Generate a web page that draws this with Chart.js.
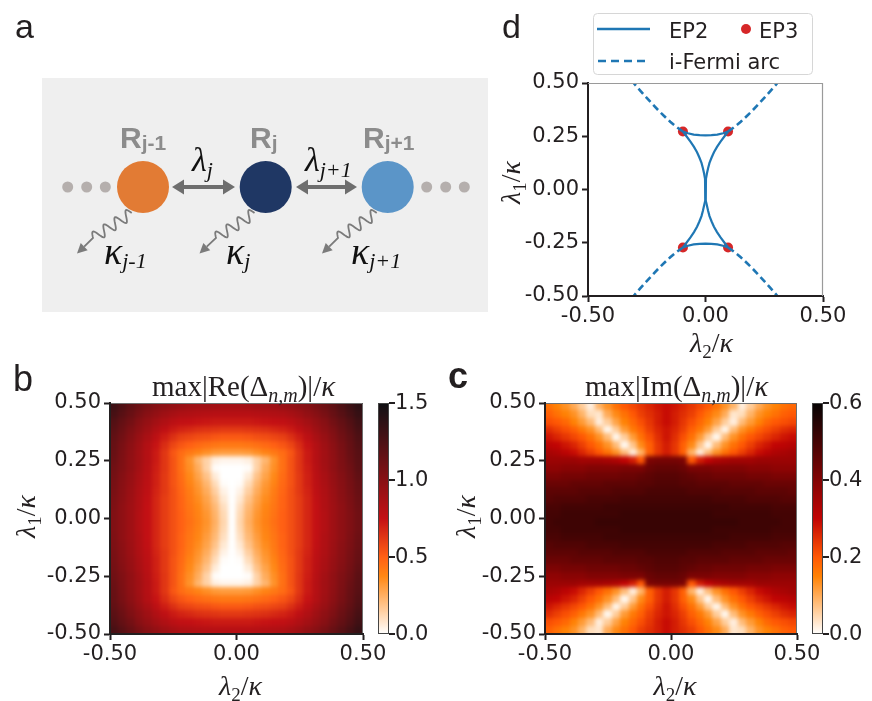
<!DOCTYPE html>
<html><head><meta charset="utf-8">
<script src="https://cdn.jsdelivr.net/npm/chart.js@4.4.1/dist/chart.umd.min.js"></script>
<style>
html,body{margin:0;padding:0;background:#fff;width:872px;height:701px;overflow:hidden;}
canvas{position:absolute;}
</style></head><body>
<canvas id="pa" style="left:0;top:0" width="490" height="330"></canvas>
<canvas id="cd" style="left:490px;top:0" width="382" height="370"></canvas>
<canvas id="cb" style="left:0;top:360px" width="440" height="341"></canvas>
<canvas id="cc" style="left:440px;top:360px" width="432" height="341"></canvas>
<script>
// ---------- DATA ----------
// heat-map cell centres (units of kappa)
const lambda2Centers = [-0.4833,-0.45,-0.4167,-0.3833,-0.35,-0.3167,-0.2833,-0.25,-0.2167,-0.1833,-0.15,-0.1167,-0.0833,-0.05,-0.0167,0.0167,0.05,0.0833,0.1167,0.15,0.1833,0.2167,0.25,0.2833,0.3167,0.35,0.3833,0.4167,0.45,0.4833];
const lambda1Centers = [0.4833,0.45,0.4167,0.3833,0.35,0.3167,0.2833,0.25,0.2167,0.1833,0.15,0.1167,0.0833,0.05,0.0167,-0.0167,-0.05,-0.0833,-0.1167,-0.15,-0.1833,-0.2167,-0.25,-0.2833,-0.3167,-0.35,-0.3833,-0.4167,-0.45,-0.4833];
// max|Re(Delta)|/kappa, in units of 0.01 (rows top -> bottom)
const reDelta = [
[131,124,117,111,106,101,98,95,93,91,90,90,89,88,88,88,89,90,90,91,93,95,98,101,106,111,117,124,131,138],
[127,120,113,106,100,95,90,87,84,83,82,81,80,80,80,80,80,81,82,83,84,87,90,95,100,106,113,120,127,134],
[122,115,108,100,94,88,83,79,76,75,74,73,72,72,72,72,72,73,74,75,76,79,83,88,94,100,108,115,122,130],
[119,112,104,97,90,83,77,72,69,67,65,64,63,62,62,62,63,64,65,67,69,72,77,83,90,97,104,112,119,127],
[116,109,101,93,86,78,71,65,60,58,56,55,53,52,52,52,53,55,56,58,60,65,71,78,86,93,101,109,116,124],
[114,106,98,90,82,74,66,58,53,50,47,45,43,42,42,42,43,45,47,50,53,58,66,74,82,90,98,106,114,122],
[113,105,97,89,81,72,63,53,46,42,39,35,32,31,31,31,32,35,39,42,46,53,63,72,81,89,97,105,113,120],
[112,104,96,89,81,72,63,54,45,34,23,14,5,3,3,3,5,14,23,34,45,54,63,72,81,89,96,104,112,119],
[110,103,96,88,80,71,63,54,45,35,26,14,1,0,0,0,1,14,26,35,45,54,63,71,80,88,96,103,110,118],
[108,101,94,86,79,70,62,54,46,37,29,19,6,0,0,0,6,19,29,37,46,54,62,70,79,86,94,101,108,116],
[107,100,93,85,78,70,62,54,47,39,32,23,11,1,0,1,11,23,32,39,47,54,62,70,78,85,93,100,107,114],
[106,99,92,84,77,69,62,55,48,41,34,26,15,4,0,4,15,26,34,41,48,55,62,69,77,84,92,99,106,113],
[105,98,91,83,76,68,61,55,49,42,36,29,19,7,0,7,19,29,36,42,49,55,61,68,76,83,91,98,105,112],
[104,97,90,83,75,68,61,55,49,43,38,31,22,10,0,10,22,31,38,43,49,55,61,68,75,83,90,97,104,111],
[103,97,90,82,75,68,61,55,50,44,39,33,24,12,0,12,24,33,39,44,50,55,61,68,75,82,90,97,103,110],
[103,97,90,82,75,68,61,55,50,45,40,34,25,13,0,13,25,34,40,45,50,55,61,68,75,82,90,97,103,110],
[103,97,90,82,75,68,61,55,50,44,39,33,24,12,0,12,24,33,39,44,50,55,61,68,75,82,90,97,103,110],
[104,97,90,83,75,68,61,55,49,43,38,31,22,10,0,10,22,31,38,43,49,55,61,68,75,83,90,97,104,111],
[105,98,91,83,76,68,61,55,49,42,36,29,19,7,0,7,19,29,36,42,49,55,61,68,76,83,91,98,105,112],
[106,99,92,84,77,69,62,55,48,41,34,26,15,4,0,4,15,26,34,41,48,55,62,69,77,84,92,99,106,113],
[107,100,93,85,78,70,62,54,47,39,32,23,11,1,0,1,11,23,32,39,47,54,62,70,78,85,93,100,107,114],
[108,101,94,86,79,70,62,54,46,37,29,19,6,0,0,0,6,19,29,37,46,54,62,70,79,86,94,101,108,116],
[110,103,96,88,80,71,63,54,45,35,26,14,1,0,0,0,1,14,26,35,45,54,63,71,80,88,96,103,110,118],
[112,104,96,89,81,72,63,54,45,34,23,14,5,3,3,3,5,14,23,34,45,54,63,72,81,89,96,104,112,119],
[113,105,97,89,81,72,63,53,46,42,39,35,32,31,31,31,32,35,39,42,46,53,63,72,81,89,97,105,113,120],
[114,106,98,90,82,74,66,58,53,50,47,45,43,42,42,42,43,45,47,50,53,58,66,74,82,90,98,106,114,122],
[116,109,101,93,86,78,71,65,60,58,56,55,53,52,52,52,53,55,56,58,60,65,71,78,86,93,101,109,116,124],
[119,112,104,97,90,83,77,72,69,67,65,64,63,62,62,62,63,64,65,67,69,72,77,83,90,97,104,112,119,127],
[122,115,108,100,94,88,83,79,76,75,74,73,72,72,72,72,72,73,74,75,76,79,83,88,94,100,108,115,122,130],
[127,120,113,106,100,95,90,87,84,83,82,81,80,80,80,80,80,81,82,83,84,87,90,95,100,106,113,120,127,134]
];
// max|Im(Delta)|/kappa, in units of 0.01 (rows top -> bottom)
const imDelta = [
[17,15,13,10,6,2,9,13,17,20,22,24,26,28,29,28,26,24,22,20,17,13,9,2,6,10,13,15,17,18],
[19,17,15,13,9,4,3,10,14,17,20,23,25,27,29,27,25,23,20,17,14,10,3,4,9,13,15,17,19,20],
[21,20,18,15,12,8,2,6,11,15,18,21,24,27,29,27,24,21,18,15,11,6,2,8,12,15,18,20,21,22],
[25,23,21,19,16,13,8,1,6,12,16,19,23,26,28,26,23,19,16,12,6,1,8,13,16,19,21,23,25,26],
[28,26,24,22,20,17,13,8,1,6,12,17,21,25,28,25,21,17,12,6,1,8,13,17,20,22,24,26,28,29],
[31,30,28,26,23,20,17,13,8,1,7,14,19,24,27,24,19,14,7,1,8,13,17,20,23,26,28,30,31,32],
[34,33,31,29,26,23,20,17,13,8,2,9,19,24,27,24,19,9,2,8,13,17,20,23,26,29,31,33,34,35],
[36,36,36,36,35,35,35,34,33,30,27,20,41,42,42,42,41,20,27,30,33,34,35,35,35,36,36,36,36,36],
[38,38,39,39,39,40,40,40,40,41,41,41,44,45,45,45,44,41,41,41,40,40,40,40,39,39,39,38,38,38],
[41,41,42,42,42,43,43,43,43,44,44,45,46,47,47,47,46,45,44,44,43,43,43,43,42,42,42,41,41,41],
[44,44,44,45,45,45,45,46,46,46,46,47,47,48,48,48,47,47,46,46,46,46,45,45,45,45,44,44,44,44],
[46,46,46,46,47,47,47,47,48,48,48,48,49,49,49,49,49,48,48,48,48,47,47,47,47,46,46,46,46,45],
[47,48,48,48,48,49,49,49,49,50,50,50,50,50,50,50,50,50,50,50,49,49,49,49,48,48,48,48,47,47],
[49,49,50,50,50,50,50,51,51,51,51,51,51,51,51,51,51,51,51,51,51,51,50,50,50,50,50,49,49,49],
[50,50,51,51,51,51,51,51,51,52,52,52,52,52,52,52,52,52,52,52,51,51,51,51,51,51,51,50,50,50],
[50,51,51,51,51,51,52,52,52,52,52,52,52,52,52,52,52,52,52,52,52,52,52,51,51,51,51,51,50,50],
[50,50,51,51,51,51,51,51,51,52,52,52,52,52,52,52,52,52,52,52,51,51,51,51,51,51,51,50,50,50],
[49,49,50,50,50,50,50,51,51,51,51,51,51,51,51,51,51,51,51,51,51,51,50,50,50,50,50,49,49,49],
[47,48,48,48,48,49,49,49,49,50,50,50,50,50,50,50,50,50,50,50,49,49,49,49,48,48,48,48,47,47],
[46,46,46,46,47,47,47,47,48,48,48,48,49,49,49,49,49,48,48,48,48,47,47,47,47,46,46,46,46,45],
[44,44,44,45,45,45,45,46,46,46,46,47,47,48,48,48,47,47,46,46,46,46,45,45,45,45,44,44,44,44],
[41,41,42,42,42,43,43,43,43,44,44,45,46,47,47,47,46,45,44,44,43,43,43,43,42,42,42,41,41,41],
[38,38,39,39,39,40,40,40,40,41,41,41,44,45,45,45,44,41,41,41,40,40,40,40,39,39,39,38,38,38],
[36,36,36,36,35,35,35,34,33,30,27,20,41,42,42,42,41,20,27,30,33,34,35,35,35,36,36,36,36,36],
[34,33,31,29,26,23,20,17,13,8,2,9,19,24,27,24,19,9,2,8,13,17,20,23,26,29,31,33,34,35],
[31,30,28,26,23,20,17,13,8,1,7,14,19,24,27,24,19,14,7,1,8,13,17,20,23,26,28,30,31,32],
[28,26,24,22,20,17,13,8,1,6,12,17,21,25,28,25,21,17,12,6,1,8,13,17,20,22,24,26,28,29],
[25,23,21,19,16,13,8,1,6,12,16,19,23,26,28,26,23,19,16,12,6,1,8,13,16,19,21,23,25,26],
[21,20,18,15,12,8,2,6,11,15,18,21,24,27,29,27,24,21,18,15,11,6,2,8,12,15,18,20,21,22],
[19,17,15,13,9,4,3,10,14,17,20,23,25,27,29,27,25,23,20,17,14,10,3,4,9,13,15,17,19,20]
];
// panel d curves
const ep2TopX  = [-0.096,-0.075,-0.05,-0.025,0,0.025,0.05,0.075,0.096];
const ep2TopY  = [0.272,0.264,0.258,0.255,0.254,0.255,0.258,0.264,0.272];
const ep2BotY  = [-0.272,-0.264,-0.258,-0.255,-0.254,-0.255,-0.258,-0.264,-0.272];
const ep2SideY = [0.272,0.25,0.225,0.2,0.175,0.15,0.125,0.1,0.075,0.05,0.025,0,-0.025,-0.05,-0.075,-0.1,-0.125,-0.15,-0.175,-0.2,-0.225,-0.25,-0.272];
const ep2LeftX = [-0.096,-0.081,-0.064,-0.049,-0.036,-0.026,-0.017,-0.011,-0.006,-0.002,-0.0005,0,-0.0005,-0.002,-0.006,-0.011,-0.017,-0.026,-0.036,-0.049,-0.064,-0.081,-0.096];
const ep2RightX= [0.096,0.081,0.064,0.049,0.036,0.026,0.017,0.011,0.006,0.002,0.0005,0,0.0005,0.002,0.006,0.011,0.017,0.026,0.036,0.049,0.064,0.081,0.096];
const arcRightX = [0.096,0.125,0.15,0.175,0.2,0.225,0.25,0.275,0.306,0.33];
const arcLeftX  = [-0.096,-0.125,-0.15,-0.175,-0.2,-0.225,-0.25,-0.275,-0.306,-0.33];
const arcUpperY = [0.272,0.295,0.318,0.344,0.371,0.400,0.430,0.461,0.500,0.528];
const arcLowerY = [-0.272,-0.295,-0.318,-0.344,-0.371,-0.400,-0.430,-0.461,-0.500,-0.528];
const ep3X = [-0.096,0.096,-0.096,0.096];
const ep3Y = [0.272,0.272,-0.272,-0.272];
const cbarTicksRe = [0,0.5,1.0,1.5];
const cbarTicksIm = [0,0.2,0.4,0.6];

// ---------- helpers ----------
const INK = '#231f20';
const TICKFONT = {family:'DejaVu Sans', size:21};
const SERIF = '"Liberation Serif","Times New Roman",serif';
function fmt2(v){ if (Math.abs(v)<1e-9) v=0; return v.toFixed(2); }
function fmt1(v){ if (Math.abs(v)<1e-9) v=0; return v.toFixed(1); }
function heatColor(v, vmax, m){
  const t = Math.max(0, Math.min(1, v/vmax)), x = 1-t;
  const r = Math.min(1,1.5*x), g = Math.max(0,Math.min(1,2*x-1)), b = Math.max(0,Math.min(1,4*x-3));
  const c = [r*255,g*255,b*255].map((c,i)=>Math.round(c + (1-c/255)*m[i]));
  return 'rgb('+c[0]+','+c[1]+','+c[2]+')';
}
function rich(ctx, x, y, segs, align){
  let w=0; segs.forEach(s=>{ctx.font=s.f; w+=ctx.measureText(s.t).width;});
  let cx = align==='center' ? x-w/2 : x;
  ctx.textBaseline='alphabetic'; ctx.textAlign='left';
  segs.forEach(s=>{ctx.font=s.f; ctx.fillStyle=s.c||INK; ctx.fillText(s.t, cx, y+(s.dy||0)); cx+=ctx.measureText(s.t).width;});
}
function lamSegs(n){
  return [{t:'λ',f:'italic 28px '+SERIF},{t:n,f:'19px '+SERIF,dy:6},{t:'/',f:'28px '+SERIF},{t:'κ',f:'italic 28px '+SERIF}];
}
function drawXTitle(ctx,x,y,n){ rich(ctx,x,y,lamSegs(n),'center'); }
function drawYTitle(ctx,x,y,n){ ctx.save(); ctx.translate(x,y); ctx.rotate(-Math.PI/2); rich(ctx,0,0,lamSegs(n),'center'); ctx.restore(); }

function scaleOpts(step, w, h, isY){
  const o = {
    type:'linear', min:-0.5, max:0.5,
    ticks:{stepSize:step, callback:v=>fmt2(v), font:TICKFONT, color:INK, padding: isY?3:2, maxRotation:0, autoSkip:false},
    grid:{display:true, drawOnChartArea:false, drawTicks:true, tickLength:6, tickWidth:2, tickColor:INK},
    border:{display:true, color:INK, width:2, z:1}
  };
  if (isY) o.afterFit = s=>{s.width=w;}; else o.afterFit = s=>{s.height=h;};
  return o;
}

// ---------- heat map charts ----------
function heatChart(id, grid, vmax, mute, ticks, padR, yW, titleWord, titleX, letter, letterX, letterBold){
  const pts = [];
  grid.forEach((row,j)=>row.forEach((v,i)=>pts.push({x:lambda2Centers[i], y:lambda1Centers[j], v:v/100})));
  const cellW = lambda2Centers[1]-lambda2Centers[0];
  const cellH = lambda1Centers[0]-lambda1Centers[1];
  const heat = {
    id:'heat'+id,
    beforeDatasetsDraw(chart){
      const meta = chart.getDatasetMeta(0), xs=chart.scales.x, ys=chart.scales.y, a=chart.chartArea, ctx=chart.ctx;
      const hw = Math.abs(xs.getPixelForValue(cellW/2)-xs.getPixelForValue(0));
      const hh = Math.abs(ys.getPixelForValue(cellH/2)-ys.getPixelForValue(0));
      const off = document.createElement('canvas'); off.width=chart.width; off.height=chart.height;
      const o = off.getContext('2d');
      meta.data.forEach((el,i)=>{
        let x0=el.x-hw, x1=el.x+hw, y0=el.y-hh, y1=el.y+hh;
        if (x0<=a.left+1) x0-=14; if (x1>=a.right-1) x1+=14; if (y0<=a.top+1) y0-=14; if (y1>=a.bottom-1) y1+=14;
        o.fillStyle = heatColor(pts[i].v, vmax, mute);
        o.fillRect(Math.floor(x0),Math.floor(y0),Math.ceil(x1)-Math.floor(x0),Math.ceil(y1)-Math.floor(y0));
      });
      ctx.save(); ctx.beginPath(); ctx.rect(a.left,a.top,a.right-a.left,a.bottom-a.top); ctx.clip();
      ctx.filter='blur(2.2px)'; ctx.drawImage(off,0,0); ctx.filter='none';
      ctx.restore();
    },
    afterDatasetsDraw(chart){
      const a=chart.chartArea, ctx=chart.ctx;
      ctx.save(); ctx.strokeStyle='#6e6e6e'; ctx.lineWidth=1;
      ctx.beginPath(); ctx.moveTo(a.left,a.top+0.5); ctx.lineTo(a.right-0.5,a.top+0.5); ctx.lineTo(a.right-0.5,a.bottom); ctx.stroke();
      ctx.restore();
    },
    afterDraw(chart){
      const a=chart.chartArea, ctx=chart.ctx;
      const bx = a.right+15, bw = 11, top=a.top, bot=a.bottom, H=bot-top;
      for (let k=0;k<H;k++){ ctx.fillStyle=heatColor(vmax*(1-(k+0.5)/H), vmax, mute); ctx.fillRect(bx, top+k, bw, 1); }
      ctx.strokeStyle='#444'; ctx.lineWidth=1; ctx.strokeRect(bx+0.5, top+0.5, bw-1, H-1);
      ctx.strokeStyle=INK; ctx.lineWidth=2; ctx.font='21px "DejaVu Sans"'; ctx.fillStyle=INK;
      ctx.textAlign='left'; ctx.textBaseline='middle';
      ticks.forEach(t=>{ const y = bot - (t/vmax)*H; ctx.beginPath(); ctx.moveTo(bx+bw,y); ctx.lineTo(bx+bw+6,y); ctx.stroke(); ctx.fillText(fmt1(t), bx+bw+6, y+1); });
      rich(ctx, titleX, 36, [{t:'max|'+titleWord+'(Δ',f:'29px '+SERIF},{t:'n,m',f:'italic 20px '+SERIF,dy:6},{t:')|/',f:'29px '+SERIF},{t:'κ',f:'italic 29px '+SERIF}], 'left');
      drawXTitle(ctx, (a.left+a.right)/2+4, 335, '2');
      drawYTitle(ctx, 35, (a.top+a.bottom)/2-2, '1');
      ctx.font=(letterBold?'bold ':'')+'36px "Liberation Sans", Arial, sans-serif'; ctx.fillStyle=INK; ctx.textAlign='left'; ctx.textBaseline='alphabetic';
      ctx.fillText(letter, letterX, letterBold?28:31);
    }
  };
  return new Chart(document.getElementById(id), {
    type:'scatter',
    data:{datasets:[{data:pts, pointRadius:0, pointHoverRadius:0, showLine:false}]},
    options:{
      responsive:false, animation:false, devicePixelRatio:1, events:[],
      layout:{padding:{left:0, top:43, right:padR, bottom:0}},
      plugins:{legend:{display:false}, tooltip:{enabled:false}, title:{display:false}},
      scales:{x:scaleOpts(0.5,0,67,false), y:scaleOpts(0.25,yW,0,true)}
    },
    plugins:[heat]
  });
}
heatChart('cb', reDelta, 1.5, [16,16,20], cbarTicksRe, 77, 110, 'Re', 152, 'b', 13, false);
heatChart('cc', imDelta, 0.6, [6,4,4], cbarTicksIm, 75, 105, 'Im', 145, 'c', 8, true);

// ---------- panel d ----------
const BLUE='#1f77b4', RED='#d62728';
function zipXY(xs,ys){ return xs.map((x,i)=>({x:x,y:ys[i]})); }
const lineDs = (data,dash)=>({data:data, showLine:true, borderColor:BLUE, borderWidth:dash?2.6:2.2, borderDash:dash?[7,4]:[], pointRadius:0, fill:false, tension:0, clip:0});
const legendPlugin = {
  id:'dlegend',
  afterDraw(chart){
    const ctx=chart.ctx, a=chart.chartArea;
    ctx.save();
    ctx.strokeStyle='#9a9a9a'; ctx.lineWidth=1.2;
    ctx.beginPath(); ctx.moveTo(a.left,a.top+0.5); ctx.lineTo(a.right-0.5,a.top+0.5); ctx.lineTo(a.right-0.5,a.bottom); ctx.stroke();
    const x0=103, y0=13, w=219, h=61, r=4;
    ctx.fillStyle='rgba(255,255,255,0.9)'; ctx.strokeStyle='#d6d6d6'; ctx.lineWidth=1;
    ctx.beginPath(); ctx.roundRect(x0+0.5,y0+0.5,w,h,r); ctx.fill(); ctx.stroke();
    ctx.strokeStyle=BLUE; ctx.lineWidth=2.6;
    ctx.beginPath(); ctx.moveTo(107,29); ctx.lineTo(160,29); ctx.stroke();
    ctx.setLineDash([8,5]); ctx.beginPath(); ctx.moveTo(108,61); ctx.lineTo(160,61); ctx.stroke(); ctx.setLineDash([]);
    ctx.fillStyle=RED; ctx.beginPath(); ctx.arc(256,29,5,0,2*Math.PI); ctx.fill();
    ctx.fillStyle=INK; ctx.font='21px "DejaVu Sans"'; ctx.textAlign='left'; ctx.textBaseline='alphabetic';
    ctx.fillText('EP2',179,38); ctx.fillText('EP3',269,38); ctx.fillText('i-Fermi arc',179,69);
    drawXTitle(ctx, (a.left+a.right)/2+6, 352, '2');
    drawYTitle(ctx, 30, (a.top+a.bottom)/2-7, '1');
    ctx.font='34px "Liberation Sans", Arial, sans-serif'; ctx.fillStyle=INK; ctx.fillText('d',12,38);
    ctx.restore();
  }
};
new Chart(document.getElementById('cd'), {
  type:'scatter',
  data:{datasets:[
    lineDs(zipXY(arcRightX,arcUpperY),true),
    lineDs(zipXY(arcLeftX,arcUpperY),true),
    lineDs(zipXY(arcRightX,arcLowerY),true),
    lineDs(zipXY(arcLeftX,arcLowerY),true),
    lineDs(zipXY(ep2TopX,ep2TopY),false),
    lineDs(zipXY(ep2TopX,ep2BotY),false),
    lineDs(zipXY(ep2LeftX,ep2SideY),false),
    lineDs(zipXY(ep2RightX,ep2SideY),false),
    {data:zipXY(ep3X,ep3Y), showLine:false, pointRadius:5, pointBackgroundColor:RED, pointBorderWidth:0, pointBorderColor:RED}
  ]},
  options:{
    responsive:false, animation:false, devicePixelRatio:1, events:[],
    layout:{padding:{left:0, top:83, right:49, bottom:0}},
    plugins:{legend:{display:false}, tooltip:{enabled:false}},
    scales:{x:scaleOpts(0.5,0,74,false), y:scaleOpts(0.25,98,0,true)}
  },
  plugins:[legendPlugin]
});

// ---------- panel a (schematic) ----------
(function(){
  const ctx = document.getElementById('pa').getContext('2d');
  ctx.fillStyle=INK; ctx.font='34px "Liberation Sans", Arial, sans-serif'; ctx.fillText('a',15,38);
  ctx.fillStyle='#efefef'; ctx.fillRect(42,78,446,234);
  ctx.fillStyle='#b5afad';
  [67.7,86.7,105.3,426.7,445.7,464.3].forEach(x=>{ctx.beginPath();ctx.arc(x,187,5.5,0,2*Math.PI);ctx.fill();});
  function dblArrow(x1,x2,y){
    ctx.strokeStyle='#6e6e6e'; ctx.fillStyle='#6e6e6e'; ctx.lineWidth=4;
    ctx.beginPath(); ctx.moveTo(x1+8,y); ctx.lineTo(x2-8,y); ctx.stroke();
    ctx.beginPath(); ctx.moveTo(x1,y); ctx.lineTo(x1+12,y-7.5); ctx.lineTo(x1+12,y+7.5); ctx.closePath(); ctx.fill();
    ctx.beginPath(); ctx.moveTo(x2,y); ctx.lineTo(x2-12,y-7.5); ctx.lineTo(x2-12,y+7.5); ctx.closePath(); ctx.fill();
  }
  dblArrow(172,235,187); dblArrow(296,357,187);
  [[143,'#e27b34'],[265.7,'#1f3764'],[387.7,'#5b95c8']].forEach(([x,c])=>{ctx.fillStyle=c;ctx.beginPath();ctx.arc(x,187,26,0,2*Math.PI);ctx.fill();});
  function wave(sx,sy,ex,ey,tx,ty){
    const dx=ex-sx, dy=ey-sy, L=Math.hypot(dx,dy), ux=dx/L, uy=dy/L, px=-uy, py=ux;
    ctx.strokeStyle='#7b7b7b'; ctx.fillStyle='#7b7b7b'; ctx.lineWidth=1.8;
    ctx.beginPath();
    for(let i=0;i<=80;i++){ const s=i/80; const o=5.5*Math.sin(2*Math.PI*3.5*s);
      const x=sx+dx*s+px*o, y=sy+dy*s+py*o; if(i===0) ctx.moveTo(x,y); else ctx.lineTo(x,y); }
    const ax=tx-ex, ay=ty-ey, AL=Math.hypot(ax,ay), vx=ax/AL, vy=ay/AL;
    const bx=tx-vx*10, by=ty-vy*10;
    ctx.lineTo(bx,by); ctx.stroke();
    ctx.beginPath(); ctx.moveTo(tx,ty); ctx.lineTo(bx-vy*5,by+vx*5); ctx.lineTo(bx+vy*5,by-vx*5); ctx.closePath(); ctx.fill();
  }
  wave(131.7,213,93,238,77,253.5);
  wave(254.5,213,216,238,199.5,253.5);
  wave(376.7,213,338,238,322,253.5);
  const RB='bold 30px "Liberation Sans", Arial, sans-serif', RS='bold 21px "Liberation Sans", Arial, sans-serif', G='#8c8c8c';
  rich(ctx,120,148,[{t:'R',f:RB,c:G},{t:'j-1',f:RS,c:G,dy:2}],'left');
  rich(ctx,250,148,[{t:'R',f:RB,c:G},{t:'j',f:RS,c:G,dy:2}],'left');
  rich(ctx,363,148,[{t:'R',f:RB,c:G},{t:'j+1',f:RS,c:G,dy:2}],'left');
  const LF='italic 34px '+SERIF, SF='italic 22px '+SERIF, K='#111';
  rich(ctx,192,171,[{t:'λ',f:LF,c:K},{t:'j',f:SF,c:K,dy:6}],'left');
  rich(ctx,305,171,[{t:'λ',f:LF,c:K},{t:'j+1',f:SF,c:K,dy:6}],'left');
  const KF='italic 38px '+SERIF;
  rich(ctx,104,264,[{t:'κ',f:KF,c:K},{t:'j-1',f:SF,c:K,dy:4}],'left');
  rich(ctx,226,264,[{t:'κ',f:KF,c:K},{t:'j',f:SF,c:K,dy:4}],'left');
  rich(ctx,351,264,[{t:'κ',f:KF,c:K},{t:'j+1',f:SF,c:K,dy:4}],'left');
})();
</script>
</body></html>
